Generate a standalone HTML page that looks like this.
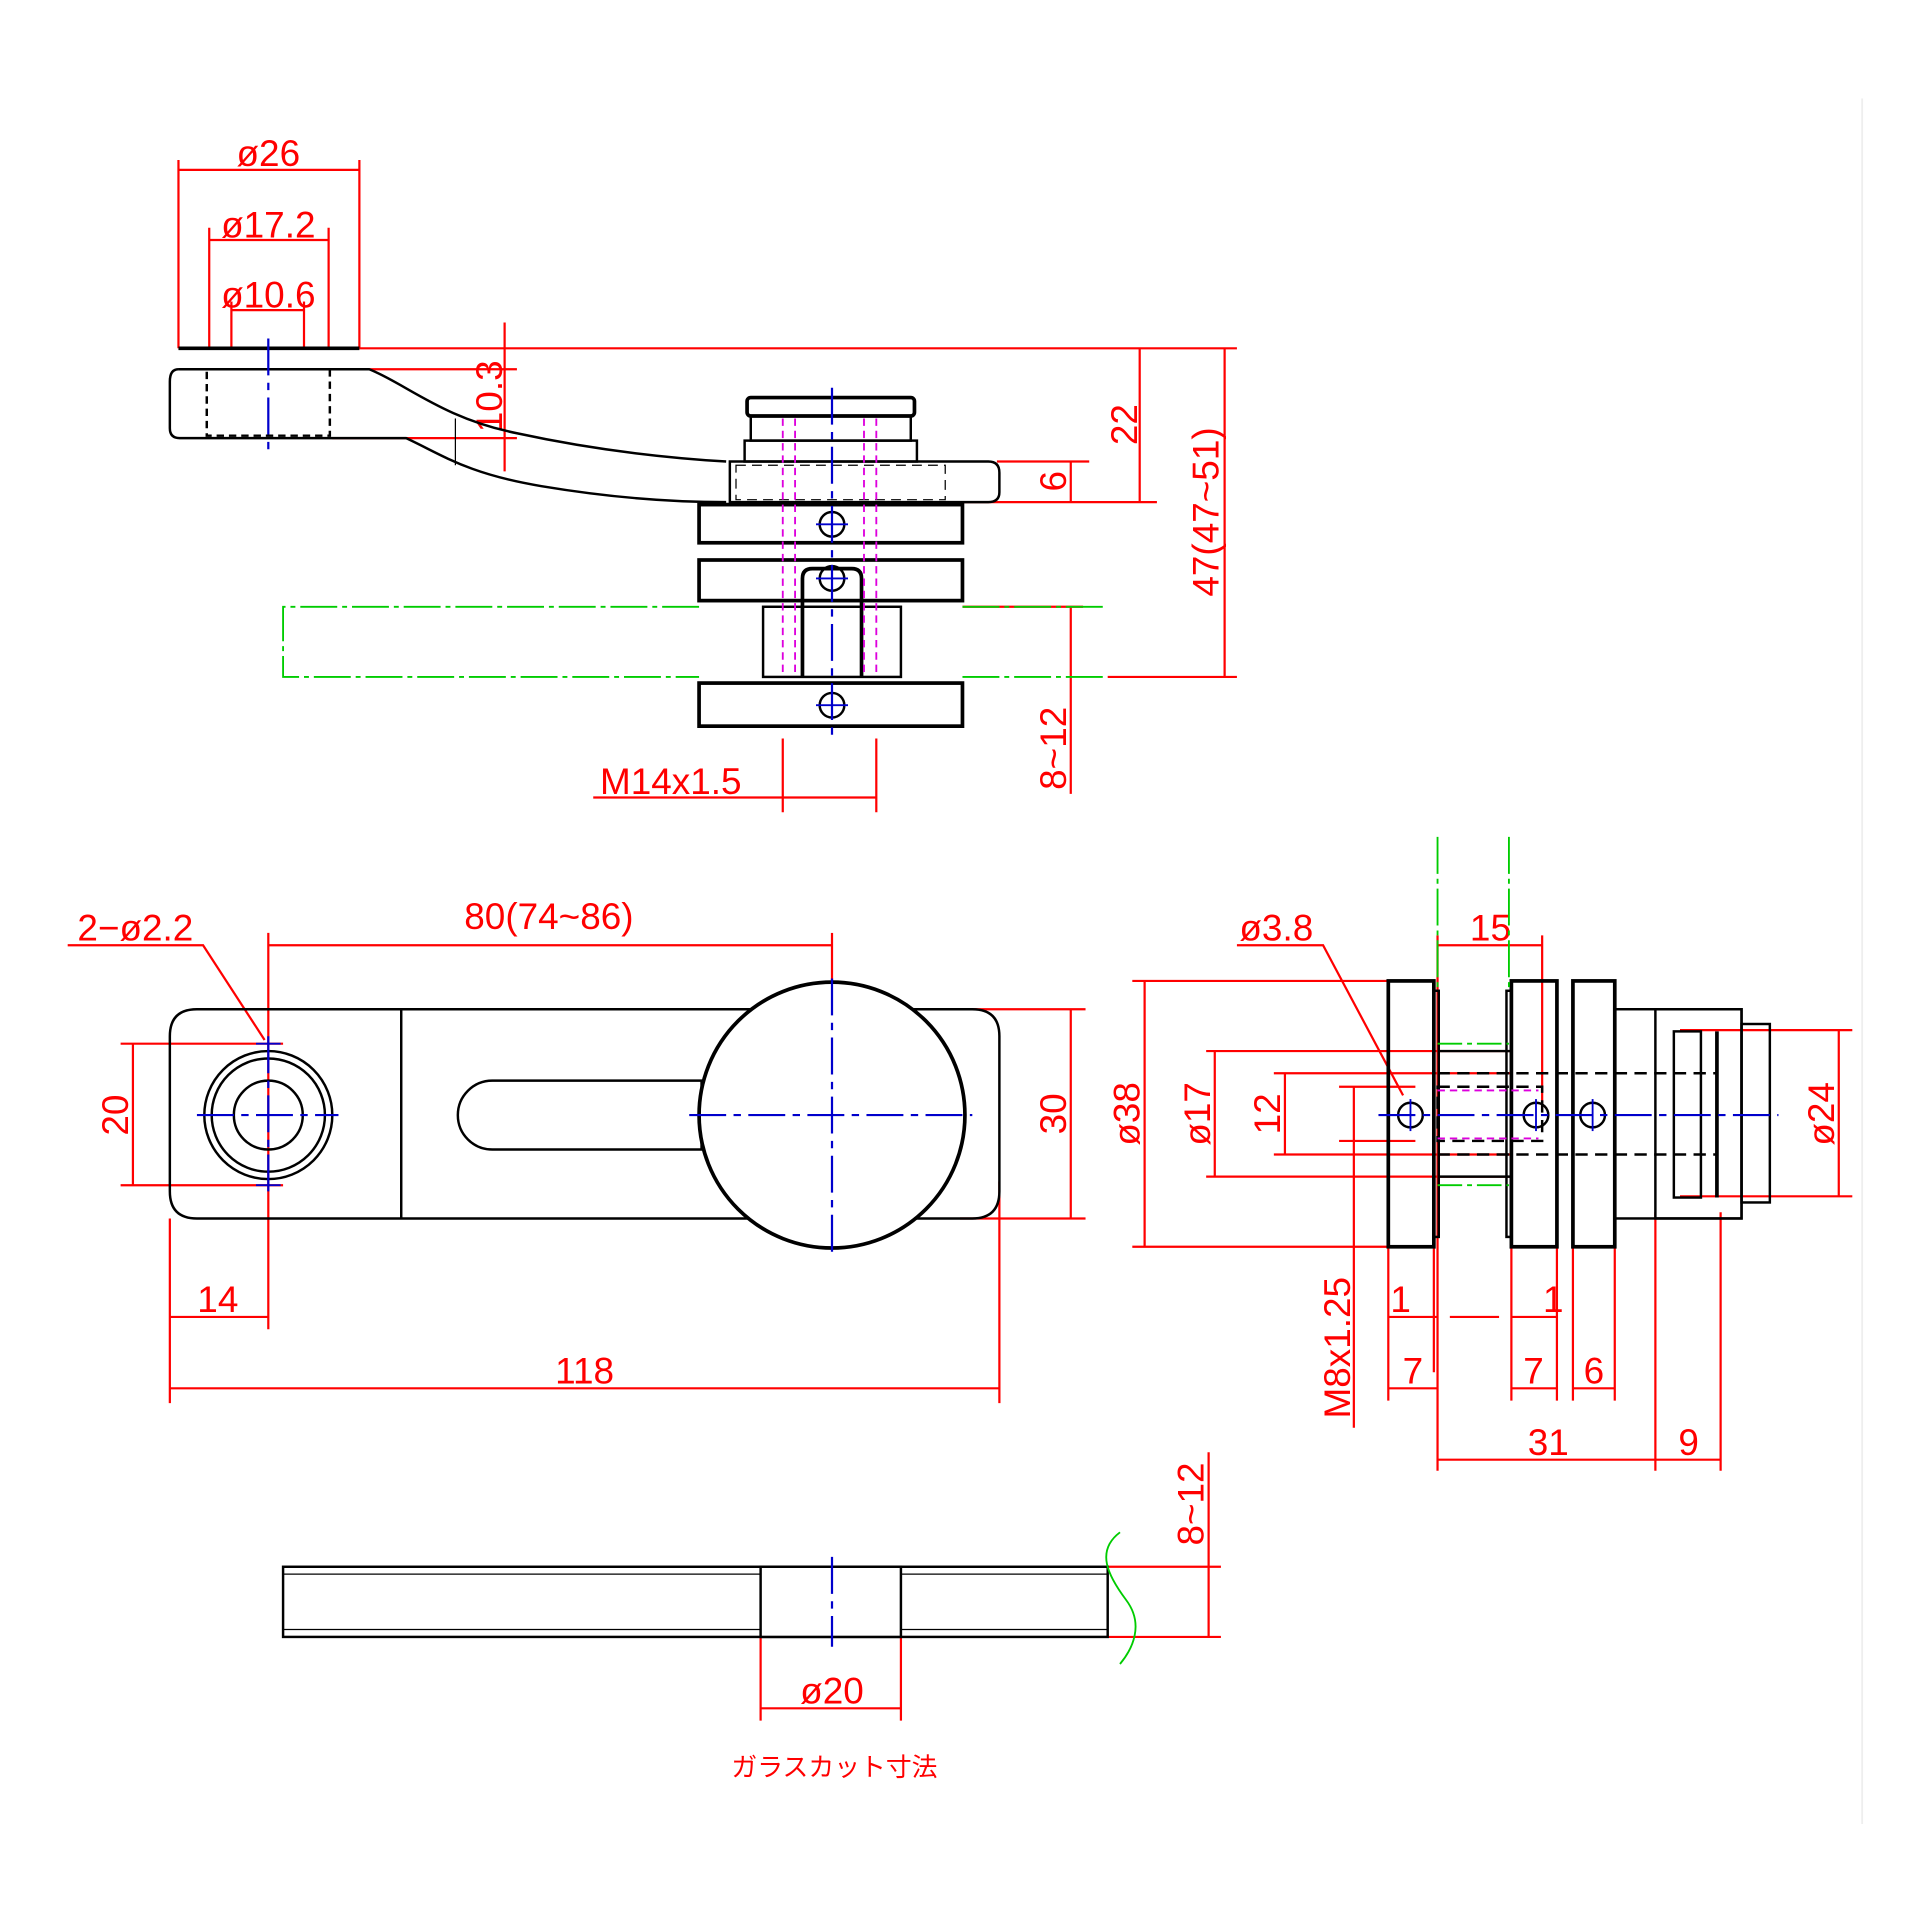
<!DOCTYPE html>
<html><head><meta charset="utf-8"><style>html,body{margin:0;padding:0;background:#fff}svg{display:block}</style></head><body>
<svg width="1920" height="1920" viewBox="0 0 1560 1560" xmlns="http://www.w3.org/2000/svg" font-family="Liberation Sans, sans-serif">
<rect width="1560" height="1560" fill="#fff"/>
<line x1="1513" y1="80" x2="1513" y2="1482" stroke="#eee" stroke-width="1.5"/>
<g stroke="#f00" stroke-width="1.8" fill="none">
<!-- top dims -->
<line x1="145" y1="130" x2="145" y2="283"/><line x1="292" y1="130" x2="292" y2="283"/><line x1="145" y1="138" x2="292" y2="138"/>
<line x1="170" y1="185" x2="170" y2="283"/><line x1="267" y1="185" x2="267" y2="283"/><line x1="170" y1="195" x2="267" y2="195"/>
<line x1="188" y1="245" x2="188" y2="283"/><line x1="247" y1="245" x2="247" y2="283"/><line x1="188" y1="252" x2="247" y2="252"/>
<line x1="292" y1="283" x2="1005" y2="283"/>
<line x1="292" y1="300" x2="420" y2="300"/>
<line x1="410" y1="262" x2="410" y2="383"/>
<line x1="270" y1="356" x2="420" y2="356"/>
<line x1="926" y1="283" x2="926" y2="408"/><line x1="782" y1="408" x2="940" y2="408"/>
<line x1="810" y1="375" x2="885" y2="375"/><line x1="870" y1="375" x2="870" y2="408"/>
<line x1="995" y1="283" x2="995" y2="550"/><line x1="900" y1="550" x2="1005" y2="550"/>
<line x1="782" y1="493" x2="880" y2="493"/><line x1="870" y1="493" x2="870" y2="645"/>
<line x1="636" y1="600" x2="636" y2="660"/><line x1="712" y1="600" x2="712" y2="660"/><line x1="636" y1="648" x2="712" y2="648"/><line x1="482" y1="648" x2="636" y2="648"/>
<!-- middle plan dims -->
<line x1="218" y1="758" x2="218" y2="1080"/><line x1="218" y1="768" x2="676" y2="768"/><line x1="676" y1="758" x2="676" y2="800"/>
<polyline points="55,768 165,768 215,845"/>
<line x1="98" y1="848" x2="230" y2="848"/><line x1="98" y1="963" x2="230" y2="963"/><line x1="108" y1="848" x2="108" y2="963"/>
<line x1="780" y1="820" x2="882" y2="820"/><line x1="780" y1="990" x2="882" y2="990"/><line x1="870" y1="820" x2="870" y2="990"/>
<line x1="138" y1="990" x2="138" y2="1140"/><line x1="138" y1="1070" x2="218" y2="1070"/>
<line x1="812" y1="960" x2="812" y2="1140"/><line x1="138" y1="1128" x2="812" y2="1128"/>
<!-- right side dims -->
<line x1="920" y1="797" x2="1128" y2="797"/><line x1="920" y1="1013" x2="1128" y2="1013"/><line x1="930" y1="797" x2="930" y2="1013"/>
<line x1="980" y1="854" x2="1228" y2="854"/><line x1="980" y1="956" x2="1228" y2="956"/><line x1="987" y1="854" x2="987" y2="956"/>
<line x1="1035" y1="872" x2="1228" y2="872"/><line x1="1035" y1="938" x2="1228" y2="938"/><line x1="1044" y1="872" x2="1044" y2="938"/>
<line x1="1088" y1="883" x2="1150" y2="883"/><line x1="1088" y1="927" x2="1150" y2="927"/><line x1="1100" y1="883" x2="1100" y2="1160"/>
<polyline points="1005,768 1075,768 1140,890"/>
<line x1="1168" y1="760" x2="1168" y2="1195"/><line x1="1253" y1="760" x2="1253" y2="900"/><line x1="1168" y1="768" x2="1253" y2="768"/>
<line x1="1128" y1="1013" x2="1128" y2="1138"/><line x1="1165" y1="1013" x2="1165" y2="1115"/>
<line x1="1228" y1="1013" x2="1228" y2="1138"/><line x1="1265" y1="1013" x2="1265" y2="1138"/>
<line x1="1278" y1="1013" x2="1278" y2="1138"/><line x1="1312" y1="1013" x2="1312" y2="1138"/>
<line x1="1128" y1="1070" x2="1265" y2="1070" stroke-dasharray="40 10"/>
<line x1="1128" y1="1128" x2="1168" y2="1128"/><line x1="1228" y1="1128" x2="1265" y2="1128"/><line x1="1278" y1="1128" x2="1312" y2="1128"/>
<line x1="1345" y1="985" x2="1345" y2="1195"/><line x1="1398" y1="985" x2="1398" y2="1195"/>
<line x1="1168" y1="1186" x2="1345" y2="1186"/><line x1="1345" y1="1186" x2="1398" y2="1186"/>
<line x1="1365" y1="837" x2="1505" y2="837"/><line x1="1365" y1="972" x2="1505" y2="972"/><line x1="1494" y1="837" x2="1494" y2="972"/>
<!-- bottom dims -->
<line x1="618" y1="1330" x2="618" y2="1398"/><line x1="732" y1="1330" x2="732" y2="1398"/><line x1="618" y1="1388" x2="732" y2="1388"/>
<line x1="900" y1="1273" x2="992" y2="1273"/><line x1="900" y1="1330" x2="992" y2="1330"/><line x1="982" y1="1180" x2="982" y2="1330"/>
</g>
<g fill="#f00" font-size="30">
<text x="218" y="135" text-anchor="middle">ø26</text>
<text x="218" y="193" text-anchor="middle">ø17.2</text>
<text x="218" y="250" text-anchor="middle">ø10.6</text>
<text transform="translate(408,322) rotate(-90)" text-anchor="middle">10.3</text>
<text transform="translate(924,345) rotate(-90)" text-anchor="middle">22</text>
<text transform="translate(866,391) rotate(-90)" text-anchor="middle">6</text>
<text transform="translate(990,416) rotate(-90)" text-anchor="middle">47(47~51)</text>
<text transform="translate(866,608) rotate(-90)" text-anchor="middle">8~12</text>
<text x="545" y="645" text-anchor="middle">M14x1.5</text>
<text x="446" y="755" text-anchor="middle">80(74~86)</text>
<text x="110" y="764" text-anchor="middle">2−ø2.2</text>
<text transform="translate(104,906) rotate(-90)" text-anchor="middle">20</text>
<text transform="translate(866,905) rotate(-90)" text-anchor="middle">30</text>
<text x="177" y="1066" text-anchor="middle">14</text>
<text x="475" y="1124" text-anchor="middle">118</text>
<text x="1037" y="764" text-anchor="middle">ø3.8</text>
<text x="1211" y="764" text-anchor="middle">15</text>
<text transform="translate(926,905) rotate(-90)" text-anchor="middle">ø38</text>
<text transform="translate(983,905) rotate(-90)" text-anchor="middle">ø17</text>
<text transform="translate(1040,905) rotate(-90)" text-anchor="middle">12</text>
<text transform="translate(1097,1095) rotate(-90)" text-anchor="middle">M8x1.25</text>
<text transform="translate(1490,905) rotate(-90)" text-anchor="middle">ø24</text>
<text x="1138" y="1066" text-anchor="middle">1</text><text x="1262" y="1066" text-anchor="middle">1</text>
<text x="1148" y="1124" text-anchor="middle">7</text><text x="1246" y="1124" text-anchor="middle">7</text><text x="1295" y="1124" text-anchor="middle">6</text>
<text x="1258" y="1182" text-anchor="middle">31</text><text x="1372" y="1182" text-anchor="middle">9</text>
<text transform="translate(978,1222) rotate(-90)" text-anchor="middle">8~12</text>
<text x="676" y="1384" text-anchor="middle">ø20</text>
<text x="678" y="1443" text-anchor="middle" font-size="21" font-family="Liberation Sans, Noto Sans CJK JP, sans-serif">ガラスカット寸法</text>
</g>
<!-- black geometry -->
<g stroke="#000" stroke-width="2" fill="none">
<line x1="145" y1="283" x2="292" y2="283" stroke-width="3"/>
<path d="M145,300 L300,300 C330,312 360,340 420,352 C480,365 540,372 590,375"/>
<path d="M145,300 Q138,300 138,310 L138,348 Q138,356 146,356 L330,356 C360,370 380,385 440,395 C500,405 550,408 590,408"/>
<rect x="168" y="300" width="100" height="54" stroke-dasharray="6 4"/>
<line x1="370" y1="340" x2="370" y2="378" stroke-width="1"/>
<rect x="607" y="323" width="136" height="15" rx="3" stroke-width="3"/>
<rect x="610" y="338" width="130" height="20"/>
<rect x="605" y="358" width="140" height="17"/>
<path d="M593,375 L803,375 Q812,375 812,384 L812,400 Q812,408 803,408 L593,408 Z"/>
<rect x="598" y="378" width="170" height="28" stroke-dasharray="8 5" stroke-width="1"/>
<rect x="568" y="410" width="214" height="31" stroke-width="3"/>
<rect x="568" y="455" width="214" height="33" stroke-width="3"/>
<rect x="568" y="555" width="214" height="35" stroke-width="3"/>
<rect x="620" y="493" width="112" height="57"/>
<path d="M652,550 L652,470 Q652,462 660,462 L692,462 Q700,462 700,470 L700,550" stroke-width="3"/>
<!-- plan -->
<path d="M160,820 L790,820 Q812,820 812,842 L812,968 Q812,990 790,990 L160,990 Q138,990 138,968 L138,842 Q138,820 160,820 Z"/>
<line x1="326" y1="820" x2="326" y2="990"/>
<path d="M400,878 L570,878 L570,934 L400,934 A28,28 0 0 1 400,878 Z"/>
<circle cx="676" cy="906" r="108" fill="#fff" stroke-width="3"/>
<circle cx="218" cy="906" r="52"/><circle cx="218" cy="906" r="46"/><circle cx="218" cy="906" r="28"/>
<!-- side -->
<rect x="1128" y="797" width="37" height="216" stroke-width="3"/>
<rect x="1165" y="805" width="4" height="200"/>
<rect x="1224" y="805" width="4" height="200"/>
<rect x="1228" y="797" width="37" height="216" stroke-width="3"/>
<rect x="1278" y="797" width="34" height="216" stroke-width="3"/>
<rect x="1312" y="820" width="103" height="170"/>
<rect x="1345" y="820" width="70" height="170"/>
<rect x="1415" y="832" width="23" height="145"/>
<rect x="1360" y="838" width="22" height="135"/>
<line x1="1395" y1="838" x2="1395" y2="973" stroke-width="3"/>
<line x1="1168" y1="854" x2="1228" y2="854"/><line x1="1168" y1="956" x2="1228" y2="956"/>
<g stroke-dasharray="10 6"><line x1="1168" y1="872" x2="1395" y2="872"/><line x1="1168" y1="938" x2="1395" y2="938"/></g>
<rect x="1168" y="883" width="85" height="44" stroke-dasharray="10 6"/>
<circle cx="1146" cy="906" r="10"/><circle cx="1248" cy="906" r="10"/><circle cx="1294" cy="906" r="10"/>
<circle cx="676" cy="426" r="10"/><circle cx="676" cy="470" r="10"/><circle cx="676" cy="573" r="10"/>
<!-- bottom -->
<rect x="230" y="1273" width="670" height="57"/>
<line x1="230" y1="1279" x2="900" y2="1279" stroke-width="1"/><line x1="230" y1="1324" x2="900" y2="1324" stroke-width="1"/>
<rect x="618" y="1273" width="114" height="57" fill="#fff"/>
</g>
<!-- green -->
<g stroke="#0c0" stroke-width="1.5" fill="none">
<path d="M568,493 L230,493 L230,550 L568,550" stroke-dasharray="30 4 4 4"/>
<path d="M782,493 L900,493 M782,550 L900,550" stroke-dasharray="30 4 4 4"/>
<line x1="1168" y1="680" x2="1168" y2="805" stroke-dasharray="30 4 4 4"/><line x1="1226" y1="680" x2="1226" y2="805" stroke-dasharray="30 4 4 4"/>
<line x1="1168" y1="848" x2="1226" y2="848" stroke-dasharray="20 4 4 4"/><line x1="1168" y1="963" x2="1226" y2="963" stroke-dasharray="20 4 4 4"/>
<path d="M910,1245 C890,1260 900,1280 915,1300 C930,1320 920,1340 910,1352"/>
</g>
<!-- magenta -->
<g stroke="#d0d" stroke-width="1.5" stroke-dasharray="6 4" fill="none">
<line x1="636" y1="340" x2="636" y2="550"/><line x1="712" y1="340" x2="712" y2="550"/>
<line x1="646" y1="340" x2="646" y2="550"/><line x1="702" y1="340" x2="702" y2="550"/>
<line x1="1168" y1="886" x2="1250" y2="886"/><line x1="1168" y1="925" x2="1250" y2="925"/>
</g>
<!-- blue centerlines -->
<g stroke="#00c" stroke-width="1.8" fill="none" stroke-dasharray="30 6 6 6">
<line x1="218" y1="275" x2="218" y2="365"/>
<line x1="676" y1="315" x2="676" y2="598"/>
<line x1="160" y1="906" x2="275" y2="906"/><line x1="218" y1="842" x2="218" y2="972"/>
<line x1="560" y1="906" x2="790" y2="906"/><line x1="676" y1="795" x2="676" y2="1018"/>
<line x1="1120" y1="906" x2="1445" y2="906"/>
<line x1="676" y1="1265" x2="676" y2="1338"/>
</g>
<g stroke="#00c" stroke-width="1.5">
<line x1="1146" y1="893" x2="1146" y2="919"/><line x1="1248" y1="893" x2="1248" y2="919"/><line x1="1294" y1="893" x2="1294" y2="919"/>
<line x1="663" y1="426" x2="689" y2="426"/><line x1="663" y1="470" x2="689" y2="470"/><line x1="663" y1="573" x2="689" y2="573"/>
<line x1="208" y1="848" x2="228" y2="848"/><line x1="208" y1="963" x2="228" y2="963"/>
</g>
</svg>
</body></html>
